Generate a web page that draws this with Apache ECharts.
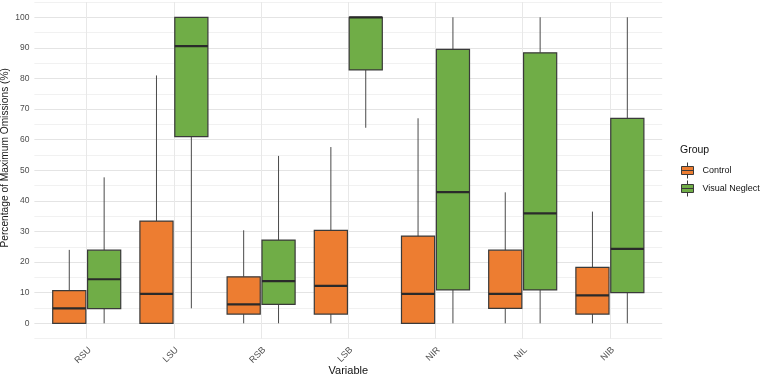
<!DOCTYPE html>
<html>
<head>
<meta charset="utf-8">
<script src="https://cdn.jsdelivr.net/npm/echarts@6/dist/echarts.min.js"></script>
<style>
  html, body { margin: 0; padding: 0; background: #fff; }
  #chart { width: 762px; height: 377px; }
</style>
</head>
<body>
<div id="chart"></div>
<script>
// categories on the x axis
var categories = ['RSU', 'LSU', 'RSB', 'LSB', 'NIR', 'NIL', 'NIB'];
// five-number summaries per category: [low whisker, Q1, median, Q3, high whisker]
var controlStats = [
  [0, 0, 4.9, 10.7, 24],
  [0, 0, 9.6, 33.4, 81],
  [0, 3.0, 6.2, 15.2, 30.4],
  [0, 3.0, 12.2, 30.4, 57.6],
  [0, 0, 9.6, 28.5, 67],
  [0, 4.9, 9.6, 23.9, 42.8],
  [0, 3.0, 9.1, 18.3, 36.5]
];
var neglectStats = [
  [0, 4.8, 14.4, 23.9, 47.7],
  [4.9, 61.0, 90.6, 100, 100],
  [0, 6.2, 13.8, 27.2, 54.7],
  [63.9, 82.8, 100, 100, 100],
  [0, 10.9, 42.9, 89.5, 100],
  [0, 10.9, 35.9, 88.4, 100],
  [0, 10.0, 24.3, 67.0, 100]
];
var yTicks = [0, 10, 20, 30, 40, 50, 60, 70, 80, 90, 100];

var FONT = 'Liberation Sans, Arial, sans-serif';
var boxHalf = 0.19; // in category units
var catPos = categories.map(function (c, i) { return i; });
// rotated labels sit a touch right of the tick, like ggplot's hjust=1
var labelPos = catPos.map(function (i) { return i + 0.035; });

function toData(stats) {
  return stats.map(function (s, i) { return [i].concat(s); });
}

// dodge: each group drawn at its own offset from the category centre
function renderBox(offset) {
  return function (params, api) {
    var x = api.value(0);
    var unit = api.size([1, 0])[0];
    var cx = api.coord([x, 0])[0] + offset * unit;
    var half = boxHalf * unit;
    var yLo = api.coord([x, api.value(1)])[1];
    var yQ1 = api.coord([x, api.value(2)])[1];
    var yMed = api.coord([x, api.value(3)])[1];
    var yQ3 = api.coord([x, api.value(4)])[1];
    var yHi = api.coord([x, api.value(5)])[1];
    var whisk = { stroke: '#4a4a4a', lineWidth: 1 };
    return {
      type: 'group',
      children: [
        { type: 'line', shape: { x1: cx, y1: yQ3, x2: cx, y2: yHi }, style: whisk },
        { type: 'line', shape: { x1: cx, y1: yLo, x2: cx, y2: yQ1 }, style: whisk },
        { type: 'rect', shape: { x: cx - half, y: yQ3, width: half * 2, height: yQ1 - yQ3 },
          style: { fill: api.visual('color'), stroke: '#3a3a3a', lineWidth: 1.2 } },
        { type: 'line', shape: { x1: cx - half, y1: yMed, x2: cx + half, y2: yMed },
          style: { stroke: '#2a2a2a', lineWidth: 2.2 } }
      ]
    };
  };
}

var chart = echarts.init(document.getElementById('chart'), null, { renderer: 'canvas' });

var option = {
  animation: false,
  textStyle: { fontFamily: FONT },
  title: {
    text: 'Group',
    left: 680,
    top: 145,
    padding: 0,
    textStyle: { fontSize: 10.5, fontWeight: 'normal', color: '#111', fontFamily: FONT }
  },
  legend: {
    orient: 'vertical',
    left: 681,
    top: 162,
    padding: 0,
    itemWidth: 12,
    itemHeight: 16,
    itemGap: 1,
    data: ['Control', 'Visual Neglect'],
    icon: 'path://M0,4 H12 V12 H0 Z M0,8 H12 M6,0 V4 M6,12 V16',
    itemStyle: { borderColor: '#3a3a3a', borderWidth: 1 },
    textStyle: { fontSize: 9, color: '#111', padding: [0, 0, 0, 4], fontFamily: FONT, overflow: 'none', width: 80 }
  },
  grid: {
    left: 34.4,
    top: 2,
    width: 627.8,
    height: 336.6,
    containLabel: false,
    outerBoundsMode: 'none'
  },
  xAxis: {
    type: 'value',
    min: -0.6,
    max: 6.6,
    name: 'Variable',
    nameLocation: 'middle',
    nameGap: 27,
    nameMoveOverlap: false,
    nameTextStyle: { fontSize: 11, color: '#111', fontFamily: FONT },
    axisLine: { show: false },
    axisTick: { show: false, customValues: catPos },
    axisLabel: {
      customValues: labelPos,
      rotate: 45,
      margin: 10,
      fontSize: 9,
      color: '#4d4d4d',
      fontFamily: FONT,
      formatter: function (v) { return categories[Math.round(v)]; }
    },
    splitLine: { show: true, lineStyle: { color: '#e8e8e8', width: 1 } }
  },
  yAxis: {
    type: 'value',
    min: -5,
    max: 105,
    interval: 5,
    name: 'Percentage of Maximum Omissions (%)',
    nameLocation: 'middle',
    nameGap: 24,
    nameMoveOverlap: false,
    nameTextStyle: { fontSize: 10.2, color: '#1a1a1a', fontFamily: FONT, padding: [0, 0, 0, 25] },
    axisLine: { show: false },
    axisTick: { show: false },
    axisLabel: {
      margin: 5,
      fontSize: 8.5,
      color: '#4d4d4d',
      fontFamily: FONT,
      formatter: function (v) { return yTicks.indexOf(v) >= 0 ? String(v) : ''; }
    },
    splitLine: { show: true, lineStyle: { color: ['#f1f1f1', '#e4e4e4'], width: 1 } }
  },
  series: [
    {
      name: 'Control',
      type: 'custom',
      renderItem: renderBox(-0.2),
      encode: { x: 0, y: [1, 2, 3, 4, 5] },
      itemStyle: { color: '#ED7D31', borderColor: '#3a3a3a', borderWidth: 1 },
      data: toData(controlStats)
    },
    {
      name: 'Visual Neglect',
      type: 'custom',
      renderItem: renderBox(0.2),
      encode: { x: 0, y: [1, 2, 3, 4, 5] },
      itemStyle: { color: '#70AD47', borderColor: '#3a3a3a', borderWidth: 1 },
      data: toData(neglectStats)
    }
  ]
};

chart.setOption(option);
</script>
</body>
</html>
